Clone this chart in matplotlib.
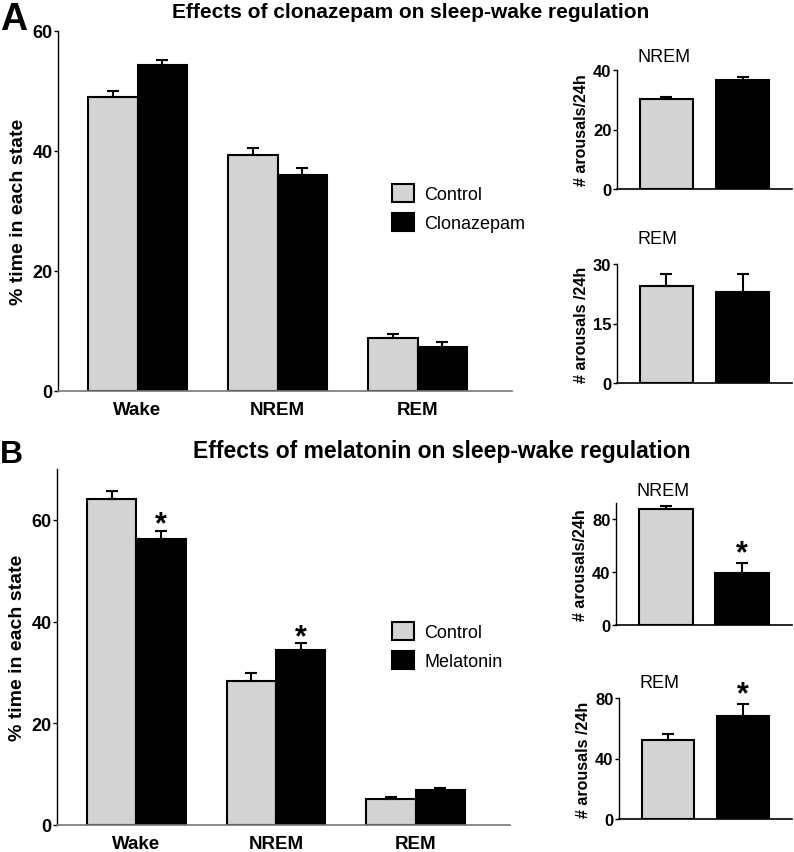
import numpy as np
import matplotlib
matplotlib.use("Agg")
import matplotlib.pyplot as plt
from matplotlib.patches import Patch

plt.rcParams["font.family"] = ["Liberation Sans", "DejaVu Sans"]

# ---------------- data ----------------
states = ["Wake", "NREM", "REM"]

# A: clonazepam, % time in each state
a_ctrl = [49.0, 39.4, 8.8]
a_ctrl_err = [1.0, 1.1, 0.7]
a_clz = [54.3, 36.0, 7.3]
a_clz_err = [0.9, 1.2, 0.9]

# A insets: # arousals / 24h  (control, clonazepam)
a_nrem_ar = [30.3, 36.6]
a_nrem_ar_err = [0.6, 1.0]
a_rem_ar = [24.5, 22.9]
a_rem_ar_err = [3.0, 4.6]

# B: melatonin, % time in each state
b_ctrl = [64.1, 28.3, 5.1]
b_ctrl_err = [1.5, 1.6, 0.5]
b_mel = [56.3, 34.4, 6.8]
b_mel_err = [1.5, 1.3, 0.5]
b_mel_sig = [True, True, False]

# B insets: # arousals / 24h  (control, melatonin)
b_nrem_ar = [87.5, 39.2]
b_nrem_ar_err = [2.3, 7.6]
b_rem_ar = [52.2, 68.1]
b_rem_ar_err = [4.0, 7.9]
b_ar_sig = [False, True]

CTRL_COLOR = "#d3d3d3"
DRUG_COLOR = "black"
W, H = 794, 853


def fig_rect(x0, y_top, x1, y_bot):
    # pixel box -> figure fraction
    return [x0 / W, 1 - y_bot / H, (x1 - x0) / W, (y_bot - y_top) / H]


def star(ax, x, y, dy):
    ax.annotate("*", (x, y), xytext=(0, dy), textcoords="offset points",
                ha="center", va="baseline", fontsize=22, fontweight="bold")


def main_panel(ax, ctrl, ctrl_err, drug, drug_err, ylim, yticks, sig=None):
    x = np.arange(len(states))
    w = 0.353
    zeros = np.zeros(len(states))
    ekw = dict(elinewidth=1.5, capsize=4, capthick=1.5, ecolor="black")
    ax.bar(x - w / 2, ctrl, w, color=CTRL_COLOR, edgecolor="black", linewidth=1.5,
           yerr=[zeros, ctrl_err], error_kw=ekw, zorder=2)
    ax.bar(x + w / 2, drug, w, color=DRUG_COLOR, edgecolor="black", linewidth=1.5,
           yerr=[zeros, drug_err], error_kw=ekw, zorder=2)
    if sig is not None:
        for i, s in enumerate(sig):
            if s:
                star(ax, x[i] + w / 2, drug[i] + drug_err[i], -1)
    ax.set_xlim(-0.568, 2.675)
    ax.set_ylim(*ylim)
    ax.set_yticks(yticks)
    ax.set_xticks(x)
    ax.set_xticklabels(states, fontsize=13.5, fontweight="bold")
    ax.tick_params(axis="x", length=0, pad=7)
    ax.tick_params(axis="y", length=3, width=1, labelsize=13, pad=1)
    for t in ax.get_yticklabels():
        t.set_fontweight("bold")
    ax.spines["top"].set_visible(False)
    ax.spines["right"].set_visible(False)
    ax.spines["bottom"].set_color("#777777")
    ax.spines["bottom"].set_linewidth(1.2)
    ax.spines["left"].set_linewidth(1.0)
    ax.set_ylabel("% time in each state", fontsize=14, fontweight="bold", labelpad=4)


def inset(ax, vals, errs, title, title_px, ylabel, ylim, yticks, sig=None):
    x = np.arange(2)
    ekw = dict(elinewidth=1.5, capsize=4, capthick=1.5, ecolor="black")
    ax.bar(x, vals, 0.7, color=[CTRL_COLOR, DRUG_COLOR], edgecolor="black",
           linewidth=1.5, yerr=[[0, 0], errs], error_kw=ekw, zorder=2)
    if sig is not None:
        for i, s in enumerate(sig):
            if s:
                star(ax, x[i], vals[i] + errs[i], 1)
    ax.set_xlim(-0.65, 1.65)
    ax.set_ylim(*ylim)
    ax.set_yticks(yticks)
    ax.set_xticks([])
    ax.tick_params(axis="y", length=3, width=1, labelsize=12, pad=1)
    for t in ax.get_yticklabels():
        t.set_fontweight("bold")
    ax.spines["top"].set_visible(False)
    ax.spines["right"].set_visible(False)
    ax.spines["bottom"].set_linewidth(1.2)
    ax.spines["left"].set_linewidth(1.0)
    ax.set_ylabel(ylabel, fontsize=11.5, fontweight="bold", labelpad=3)
    # title placed a few pixels above the axes, left aligned
    ax.annotate(title, (0, 1), xycoords="axes fraction", xytext=(15, title_px * 0.72),
                textcoords="offset points", fontsize=13, ha="left", va="center",
                annotation_clip=False)


fig = plt.figure(figsize=(W / 100, H / 100), dpi=100)

legend_kw = dict(loc="upper left", bbox_transform=fig.transFigure, frameon=False,
                 fontsize=13, handlelength=1.2, handleheight=1.15, handletextpad=0.6,
                 labelspacing=0.55, borderpad=0, borderaxespad=0)

# ---------------- panel A ----------------
axA = fig.add_axes(fig_rect(58, 32, 512, 392))
main_panel(axA, a_ctrl, a_ctrl_err, a_clz, a_clz_err, (0, 60), [0, 20, 40, 60])
axA.legend(handles=[Patch(facecolor=CTRL_COLOR, edgecolor="black", linewidth=1.5, label="Control"),
                    Patch(facecolor=DRUG_COLOR, edgecolor="black", linewidth=1.5, label="Clonazepam")],
           bbox_to_anchor=(392 / W, 1 - 185 / H), **legend_kw)

axA1 = fig.add_axes(fig_rect(617, 71, 792, 190))
inset(axA1, a_nrem_ar, a_nrem_ar_err, "NREM", 14, "# arousals/24h", (0, 40), [0, 20, 40])
axA2 = fig.add_axes(fig_rect(617, 265, 792, 384))
inset(axA2, a_rem_ar, a_rem_ar_err, "REM", 25, "# arousals /24h", (0, 30), [0, 15, 30])

fig.text(0, 1 - 30 / H, "A", fontsize=27, fontweight="bold", ha="left", va="baseline")
fig.text(411 / W, 1 - 12 / H, "Effects of clonazepam on sleep-wake regulation",
         fontsize=15, fontweight="bold", ha="center", va="center")

# ---------------- panel B ----------------
axB = fig.add_axes(fig_rect(57, 470, 510, 826))
main_panel(axB, b_ctrl, b_ctrl_err, b_mel, b_mel_err, (0, 70), [0, 20, 40, 60], sig=b_mel_sig)
axB.legend(handles=[Patch(facecolor=CTRL_COLOR, edgecolor="black", linewidth=1.5, label="Control"),
                    Patch(facecolor=DRUG_COLOR, edgecolor="black", linewidth=1.5, label="Melatonin")],
           bbox_to_anchor=(392 / W, 1 - 623 / H), **legend_kw)

axB1 = fig.add_axes(fig_rect(616, 504, 792, 626))
inset(axB1, b_nrem_ar, b_nrem_ar_err, "NREM", 12, "# arousals/24h", (0, 92), [0, 40, 80], sig=b_ar_sig)
axB2 = fig.add_axes(fig_rect(619, 699, 792, 820))
inset(axB2, b_rem_ar, b_rem_ar_err, "REM", 15, "# arousals /24h", (0, 80), [0, 40, 80], sig=b_ar_sig)

fig.text(0, 1 - 463 / H, "B", fontsize=23, fontweight="bold", ha="left", va="baseline")
fig.text(442 / W, 1 - 452 / H, "Effects of melatonin on sleep-wake regulation",
         fontsize=16.5, fontweight="bold", ha="center", va="center")

fig.savefig("out.png", dpi=100)
